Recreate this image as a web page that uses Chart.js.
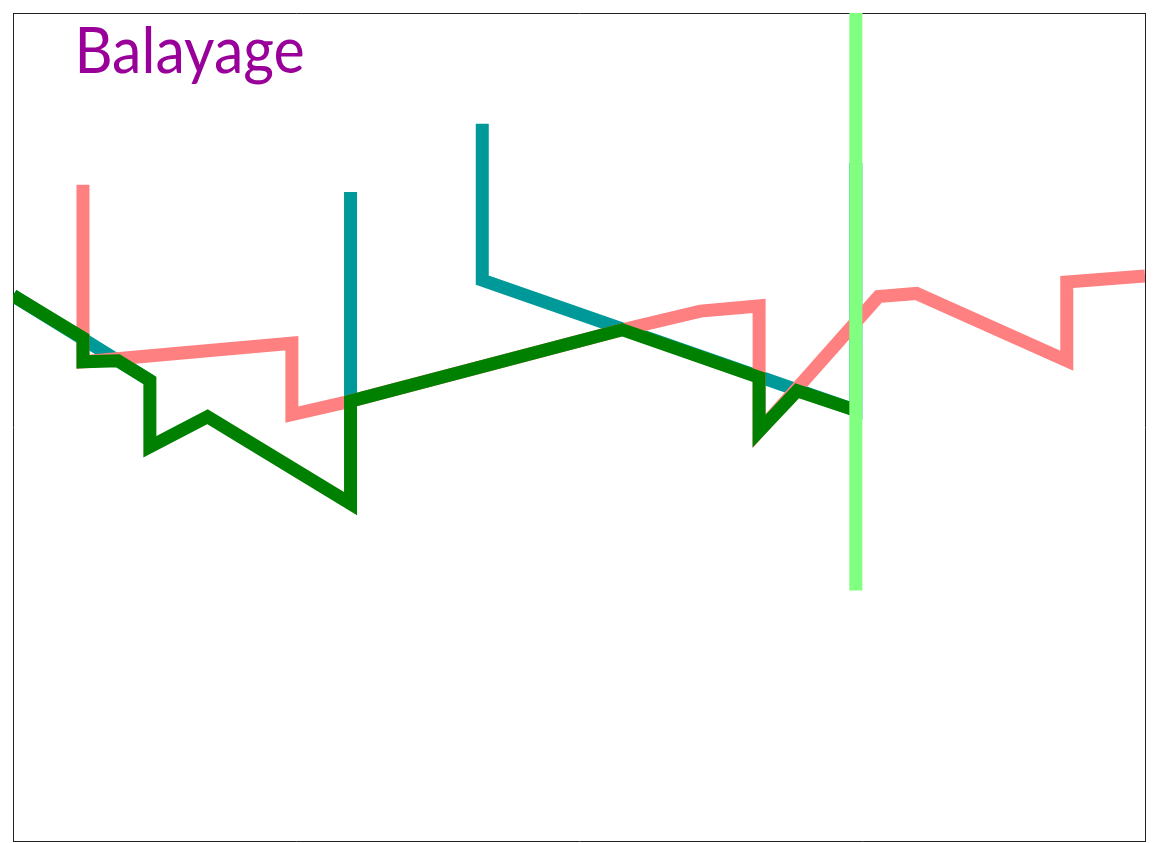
<!DOCTYPE html>
<html lang="fr">
<head>
<meta charset="utf-8">
<title>Balayage</title>
<script src="https://cdn.jsdelivr.net/npm/chart.js@4/dist/chart.umd.min.js"></script>
<style>
  html, body { margin: 0; padding: 0; background: #ffffff; }
  #wrap { width: 1159px; height: 843px; position: relative; }
</style>
</head>
<body>
<div id="wrap"><canvas id="c"></canvas></div>
<script>
// Plot window (same units on both axes)
const xRange = [0, 11];
const yRange = [0, 8];

const titleText = 'Balayage';

// Salmon polyline
const pinkX = [0.68, 0.68, 2.71, 2.71, 3.28, 5.92, 6.68, 7.25, 7.25, 8.41, 8.78, 10.24, 10.24, 11.00];
const pinkY = [6.34, 4.63, 4.81, 4.12, 4.25, 4.94, 5.12, 5.17, 3.96, 5.26, 5.29, 4.64, 5.40, 5.46];

// Teal pieces (null breaks the path)
const tealX = [0.00, 1.33, 3.28, 3.28, 3.28, 4.56, 4.56, 4.56, 8.19, 8.19];
const tealY = [5.27, 4.45, null, 6.27, 4.25, null, 6.93, 5.42, 4.16, 6.55];

// Dark green polyline
const greenX = [0.00, 0.68, 0.68, 1.02, 1.33, 1.33, 1.89, 3.28, 3.28, 5.92, 7.25, 7.25, 7.62, 8.19];
const greenY = [5.27, 4.86, 4.63, 4.64, 4.45, 3.81, 4.10, 3.26, 4.25, 4.94, 4.48, 3.96, 4.35, 4.16];

// Sweep line
const sweepX = [8.19, 8.19];
const sweepY = [8.00, 2.42];

const toPoints = (xs, ys) => xs.map((x, i) => ({ x: x, y: ys[i] }));

const lineStyle = (color) => ({
  borderColor: color,
  backgroundColor: color,
  borderWidth: 13,
  pointRadius: 0,
  pointHoverRadius: 0,
  tension: 0,
  fill: false,
  spanGaps: false,
  borderJoinStyle: 'miter',
  borderCapStyle: 'butt'
});

// Title drawn inside the plot frame, top-left
const titlePlugin = {
  id: 'innerTitle',
  afterDraw(chart) {
    const { ctx, chartArea } = chart;
    ctx.save();
    ctx.font = '64px Lato, "Open Sans", sans-serif';
    ctx.fillStyle = '#990099';
    ctx.textBaseline = 'alphabetic';
    ctx.textAlign = 'left';
    const m = ctx.measureText(titleText);
    const inkW = m.actualBoundingBoxLeft + m.actualBoundingBoxRight;
    const targetW = 224;
    const sx = targetW / inkW;
    const left = chartArea.left + 66;
    const base = chartArea.top + 60;
    ctx.translate(left, base);
    ctx.scale(sx, 1);
    ctx.fillText(titleText, m.actualBoundingBoxLeft, 0);
    ctx.restore();
  }
};

const hiddenAxis = (pos, range) => ({
  type: 'linear',
  position: pos,
  min: range[0],
  max: range[1],
  grid: { display: false, drawTicks: false },
  ticks: { display: false },
  border: { display: true, color: '#222222', width: 1 }
});

new Chart(document.getElementById('c'), {
  type: 'line',
  data: {
    datasets: [
      { label: 'balayage', data: toPoints(sweepX, sweepY), ...lineStyle('#80ff80') },
      { label: 'vert', data: toPoints(greenX, greenY), ...lineStyle('#008000') },
      { label: 'rose', data: toPoints(pinkX, pinkY), ...lineStyle('#ff8080') },
      { label: 'sarcelle', data: toPoints(tealX, tealY), ...lineStyle('#009999') }
    ]
  },
  options: {
    responsive: true,
    maintainAspectRatio: false,
    animation: false,
    layout: { padding: { left: 13, top: 13, right: 14, bottom: 2 } },
    scales: {
      x: hiddenAxis('bottom', xRange),
      x2: hiddenAxis('top', xRange),
      y: hiddenAxis('left', yRange),
      y2: hiddenAxis('right', yRange)
    },
    plugins: {
      legend: { display: false },
      tooltip: { enabled: false },
      title: { display: false }
    },
    events: []
  },
  plugins: [titlePlugin]
});
</script>
</body>
</html>
